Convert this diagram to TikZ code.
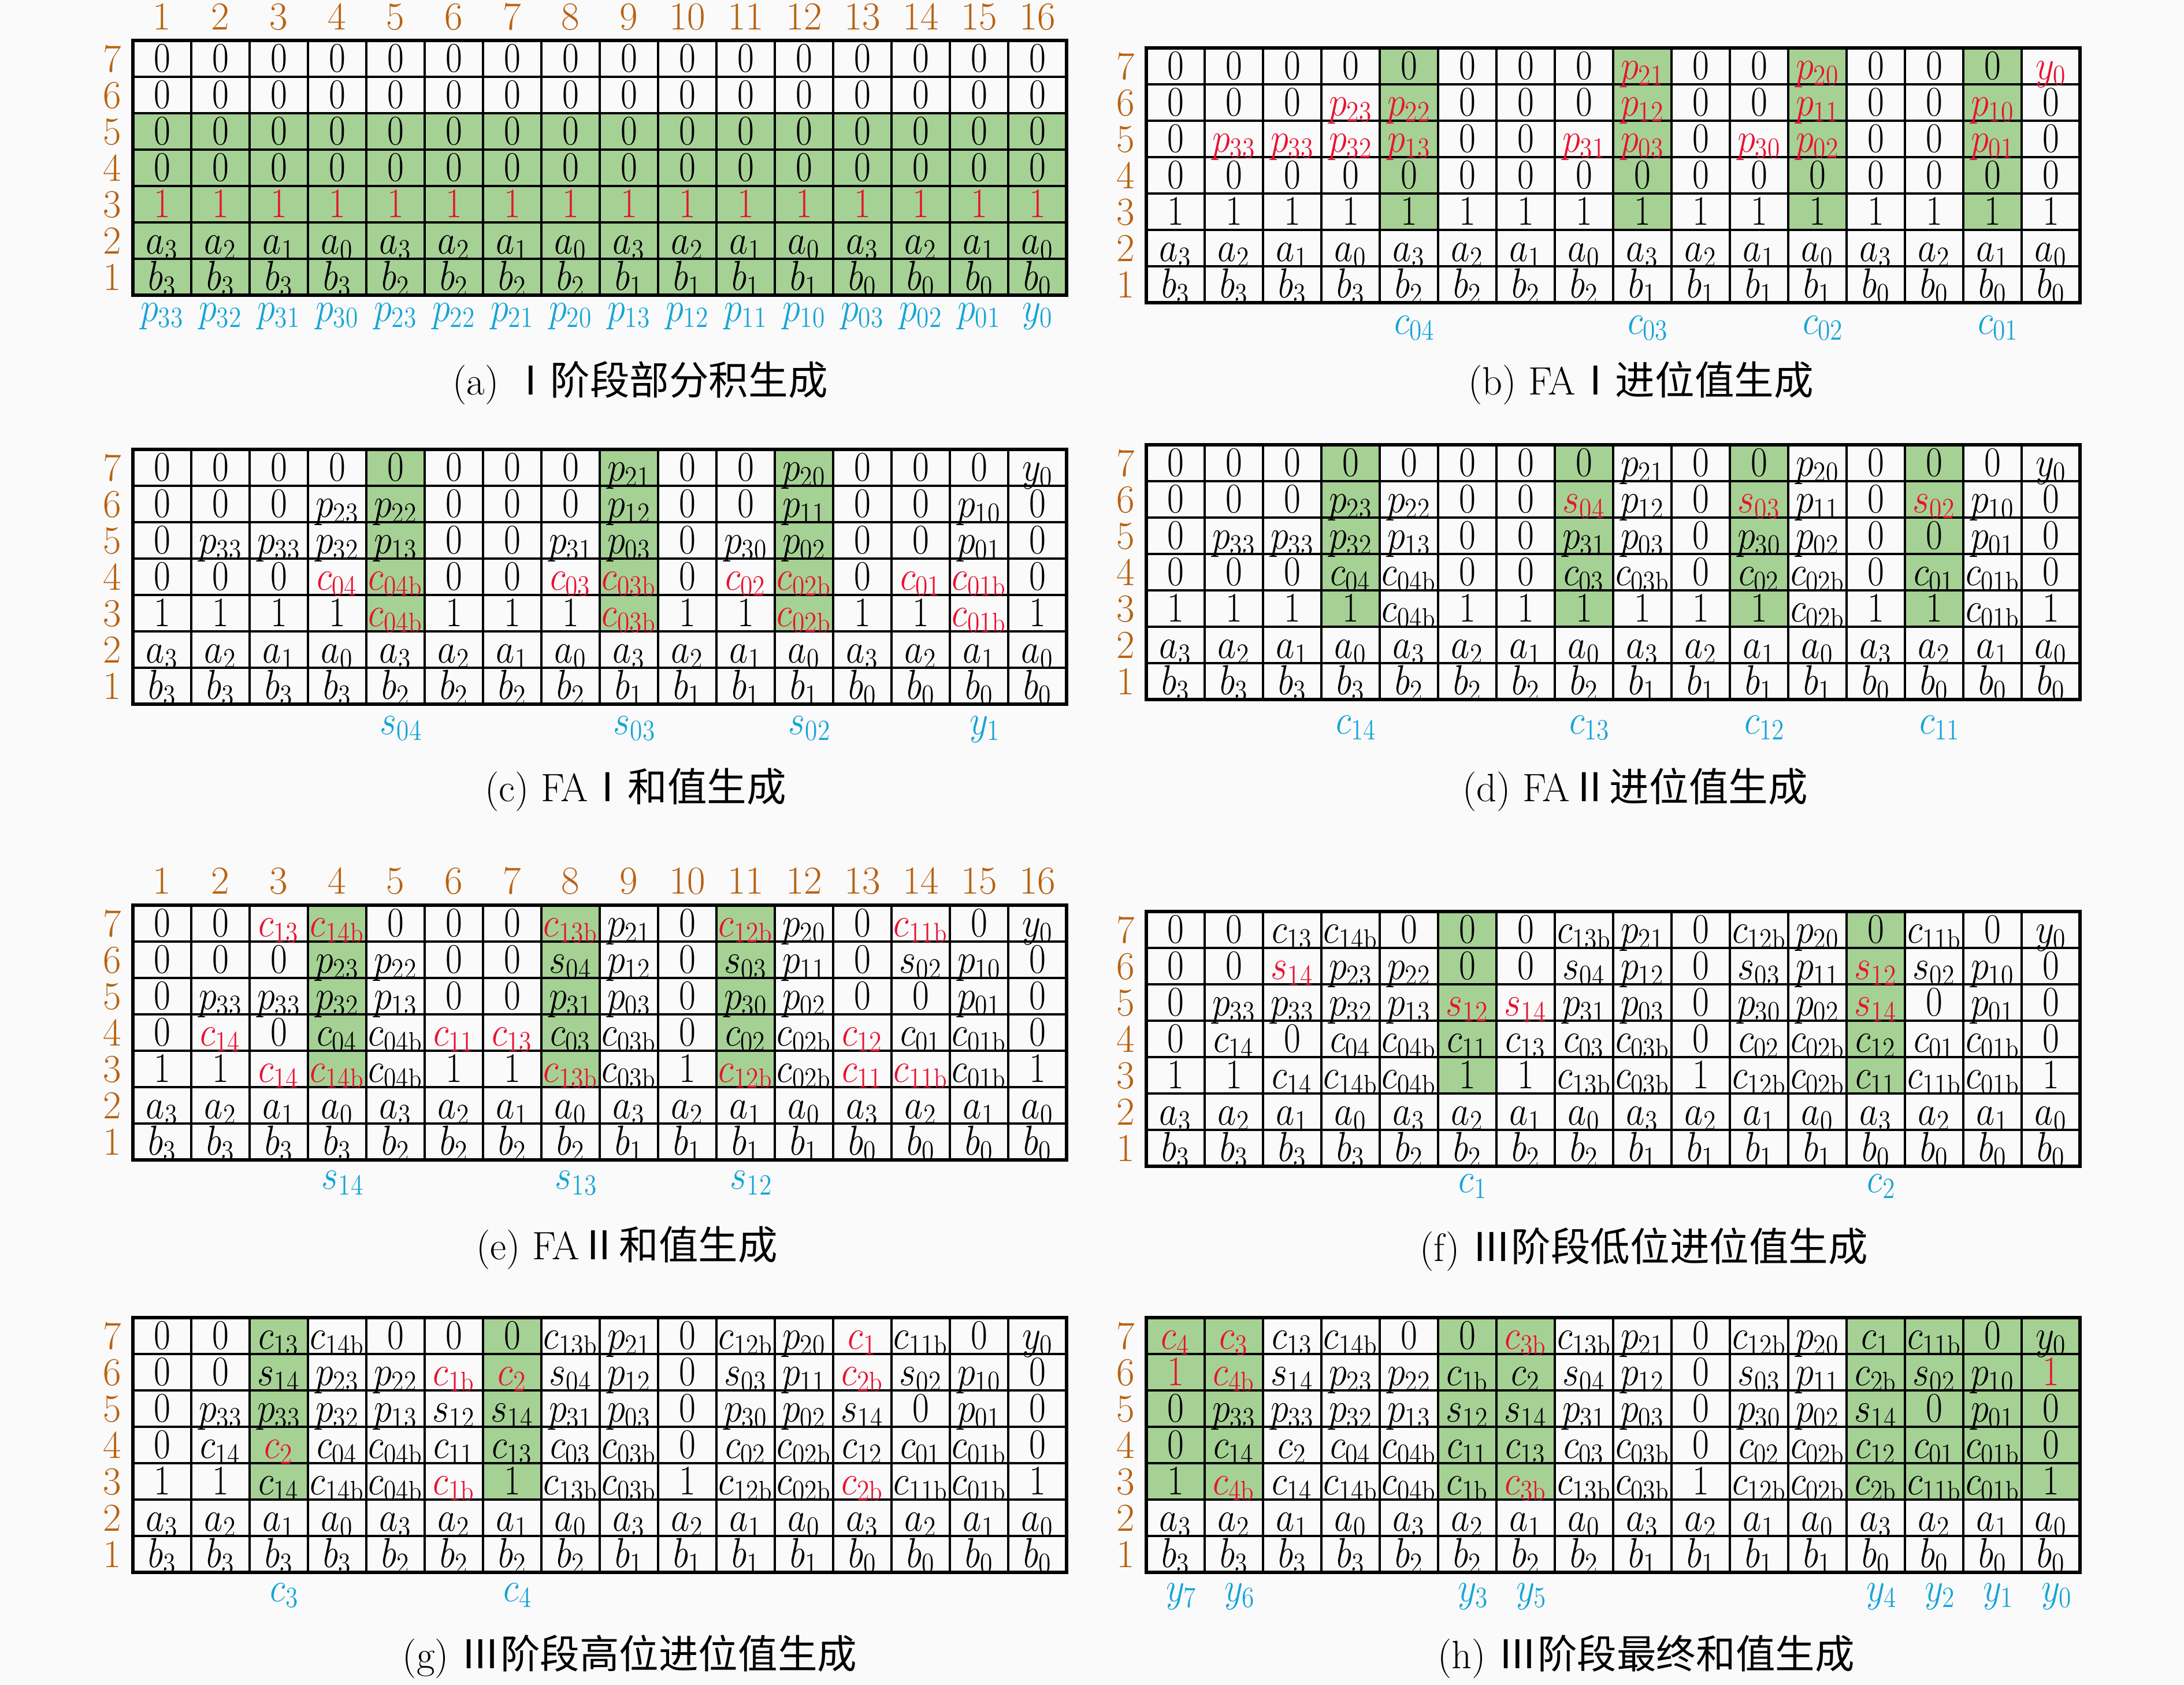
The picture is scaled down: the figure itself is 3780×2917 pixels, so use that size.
\documentclass[tikz,border=0pt]{standalone}
\usepackage{graphicx}
\usepackage{fontspec}
\newfontfamily\cjk{Noto Sans CJK SC}
\definecolor{bgc}{RGB}{250,250,250}
\definecolor{gfill}{RGB}{166,209,149}
\definecolor{numc}{RGB}{185,98,18}
\definecolor{labc}{RGB}{20,165,215}
\definecolor{redc}{RGB}{232,18,50}
\newcommand\Rd[1]{{\color{redc}#1}}
\newcommand\Bs{\mathrm{b}}
\newcommand\Sq[1]{\scalebox{0.86}[1]{$#1$}}
\tikzset{
  cellt/.style={anchor=base, inner sep=0pt, font=\fontsize{19.5}{24}\selectfont},
  numt/.style={anchor=base, inner sep=0pt, text=numc, font=\fontsize{19.5}{24}\selectfont},
  labt/.style={anchor=base, inner sep=0pt, text=labc, font=\fontsize{19.5}{24}\selectfont},
  capt/.style={anchor=center, inner sep=0pt, font=\fontsize{19.5}{22}\selectfont},
  gridline/.style={line width=1.1pt, black},
  frameline/.style={line width=1.7pt, black},
  hl/.style={fill=gfill, draw=none},
}
% grid lines and row numbers: name, x0, ytop
\newcommand\panelgrid[3]{%
  \foreach \kk in {1,...,6} \draw[gridline] (#2,{#3+63*\kk}) -- ({#2+1616},{#3+63*\kk});
  \foreach \ii in {1,...,15} \draw[gridline] ({#2+101*\ii},#3) -- ({#2+101*\ii},{#3+441});
  \draw[frameline] (#2,#3) rectangle ({#2+1616},{#3+441});
  \foreach \rr in {1,...,7} \node[numt] (#1-rn\rr) at ({#2-36},{#3+63*(7-\rr)+54}) {\rr};
}
% one row of cells: name, x0, ytop, row number, list
\newcommand\panelrow[5]{%
  \foreach \tx [count=\ii] in {#5} \node[cellt] (#1-\ii-#4) at ({#2+101*(\ii-0.5)},{#3+63*(7-#4)+54}) {\Sq{\tx}};
}
\newcommand\panelbase[3]{%
  \panelrow{#1}{#2}{#3}{2}{a_3,a_2,a_1,a_0,a_3,a_2,a_1,a_0,a_3,a_2,a_1,a_0,a_3,a_2,a_1,a_0}
  \panelrow{#1}{#2}{#3}{1}{b_3,b_3,b_3,b_3,b_2,b_2,b_2,b_2,b_1,b_1,b_1,b_1,b_0,b_0,b_0,b_0}
}
% green columns (rows 3-7): x0, ytop, list
\newcommand\greencols[3]{%
  \foreach \cc in {#3} \fill[hl] ({#1+101*(\cc-1)},#2) rectangle ({#1+101*\cc},{#2+315});
}
% labels below: name, x0, baseline y, list col/text
\newcommand\panellabels[4]{%
  \foreach \cc/\tx in {#4} \node[labt] (#1-lab\cc) at ({#2+101*(\cc-0.5)+10},#3) {\Sq{\tx}};
}
\begin{document}
\begin{tikzpicture}[x=0.01cm, y=-0.01cm]
\fill[bgc] (0,0) rectangle (3780,2917);
\useasboundingbox (0,0) rectangle (3780,2917);

% ================= (a)
\fill[hl] (230,{70+126}) rectangle (1846,{70+441});
\panelgrid{a}{230}{70}
\foreach \ii in {1,...,16} \node[numt] (a-cn\ii) at ({230+101*(\ii-0.5)},51) {\ii};
\panelrow{a}{230}{70}{7}{0,0,0,0,0,0,0,0,0,0,0,0,0,0,0,0}
\panelrow{a}{230}{70}{6}{0,0,0,0,0,0,0,0,0,0,0,0,0,0,0,0}
\panelrow{a}{230}{70}{5}{0,0,0,0,0,0,0,0,0,0,0,0,0,0,0,0}
\panelrow{a}{230}{70}{4}{0,0,0,0,0,0,0,0,0,0,0,0,0,0,0,0}
\panelrow{a}{230}{70}{3}{\Rd{1},\Rd{1},\Rd{1},\Rd{1},\Rd{1},\Rd{1},\Rd{1},\Rd{1},\Rd{1},\Rd{1},\Rd{1},\Rd{1},\Rd{1},\Rd{1},\Rd{1},\Rd{1}}
\panelbase{a}{230}{70}
\panellabels{a}{220}{556}{1/p_{33},2/p_{32},3/p_{31},4/p_{30},5/p_{23},6/p_{22},7/p_{21},8/p_{20},9/p_{13},10/p_{12},11/p_{11},12/p_{10},13/p_{03},14/p_{02},15/p_{01},16/y_0}
\node[capt] (cap-a) at (1108,663) {(a) {\cjk Ⅰ阶段部分积生成}};

% ================= (b)
\greencols{1984}{83}{5,9,12,15}
\panelgrid{b}{1984}{83}
\panelrow{b}{1984}{83}{7}{0,0,0,0,0,0,0,0,\Rd{p_{21}},0,0,\Rd{p_{20}},0,0,0,\Rd{y_0}}
\panelrow{b}{1984}{83}{6}{0,0,0,\Rd{p_{23}},\Rd{p_{22}},0,0,0,\Rd{p_{12}},0,0,\Rd{p_{11}},0,0,\Rd{p_{10}},0}
\panelrow{b}{1984}{83}{5}{0,\Rd{p_{33}},\Rd{p_{33}},\Rd{p_{32}},\Rd{p_{13}},0,0,\Rd{p_{31}},\Rd{p_{03}},0,\Rd{p_{30}},\Rd{p_{02}},0,0,\Rd{p_{01}},0}
\panelrow{b}{1984}{83}{4}{0,0,0,0,0,0,0,0,0,0,0,0,0,0,0,0}
\panelrow{b}{1984}{83}{3}{1,1,1,1,1,1,1,1,1,1,1,1,1,1,1,1}
\panelbase{b}{1984}{83}
\panellabels{b}{1984}{578}{5/c_{04},9/c_{03},12/c_{02},15/c_{01}}
\node[capt] (cap-b) at (2840,663) {(b) FA{\cjk Ⅰ进位值生成}};

% ================= (c)
\greencols{230}{778}{5,9,12}
\panelgrid{c}{230}{778}
\panelrow{c}{230}{778}{7}{0,0,0,0,0,0,0,0,p_{21},0,0,p_{20},0,0,0,y_0}
\panelrow{c}{230}{778}{6}{0,0,0,p_{23},p_{22},0,0,0,p_{12},0,0,p_{11},0,0,p_{10},0}
\panelrow{c}{230}{778}{5}{0,p_{33},p_{33},p_{32},p_{13},0,0,p_{31},p_{03},0,p_{30},p_{02},0,0,p_{01},0}
\panelrow{c}{230}{778}{4}{0,0,0,\Rd{c_{04}},\Rd{c_{04\Bs}},0,0,\Rd{c_{03}},\Rd{c_{03\Bs}},0,\Rd{c_{02}},\Rd{c_{02\Bs}},0,\Rd{c_{01}},\Rd{c_{01\Bs}},0}
\panelrow{c}{230}{778}{3}{1,1,1,1,\Rd{c_{04\Bs}},1,1,1,\Rd{c_{03\Bs}},1,1,\Rd{c_{02\Bs}},1,1,\Rd{c_{01\Bs}},1}
\panelbase{c}{230}{778}
\panellabels{c}{230}{1271}{5/s_{04},9/s_{03},12/s_{02},15/y_1}
\node[capt] (cap-c) at (1100,1367) {(c) FA{\cjk Ⅰ和值生成}};

% ================= (d)
\greencols{1984}{770}{4,8,11,14}
\panelgrid{d}{1984}{770}
\panelrow{d}{1984}{770}{7}{0,0,0,0,0,0,0,0,p_{21},0,0,p_{20},0,0,0,y_0}
\panelrow{d}{1984}{770}{6}{0,0,0,p_{23},p_{22},0,0,\Rd{s_{04}},p_{12},0,\Rd{s_{03}},p_{11},0,\Rd{s_{02}},p_{10},0}
\panelrow{d}{1984}{770}{5}{0,p_{33},p_{33},p_{32},p_{13},0,0,p_{31},p_{03},0,p_{30},p_{02},0,0,p_{01},0}
\panelrow{d}{1984}{770}{4}{0,0,0,c_{04},c_{04\Bs},0,0,c_{03},c_{03\Bs},0,c_{02},c_{02\Bs},0,c_{01},c_{01\Bs},0}
\panelrow{d}{1984}{770}{3}{1,1,1,1,c_{04\Bs},1,1,1,1,1,1,c_{02\Bs},1,1,c_{01\Bs},1}
\panelbase{d}{1984}{770}
\panellabels{d}{1984}{1270}{4/c_{14},8/c_{13},11/c_{12},14/c_{11}}
\node[capt] (cap-d) at (2830,1367) {(d) FA{\cjk Ⅱ进位值生成}};

% ================= (e)
\greencols{230}{1567}{4,8,11}
\panelgrid{e}{230}{1567}
\foreach \ii in {1,...,16} \node[numt] (e-cn\ii) at ({230+101*(\ii-0.5)},1547) {\ii};
\panelrow{e}{230}{1567}{7}{0,0,\Rd{c_{13}},\Rd{c_{14\Bs}},0,0,0,\Rd{c_{13\Bs}},p_{21},0,\Rd{c_{12\Bs}},p_{20},0,\Rd{c_{11\Bs}},0,y_0}
\panelrow{e}{230}{1567}{6}{0,0,0,p_{23},p_{22},0,0,s_{04},p_{12},0,s_{03},p_{11},0,s_{02},p_{10},0}
\panelrow{e}{230}{1567}{5}{0,p_{33},p_{33},p_{32},p_{13},0,0,p_{31},p_{03},0,p_{30},p_{02},0,0,p_{01},0}
\panelrow{e}{230}{1567}{4}{0,\Rd{c_{14}},0,c_{04},c_{04\Bs},\Rd{c_{11}},\Rd{c_{13}},c_{03},c_{03\Bs},0,c_{02},c_{02\Bs},\Rd{c_{12}},c_{01},c_{01\Bs},0}
\panelrow{e}{230}{1567}{3}{1,1,\Rd{c_{14}},\Rd{c_{14\Bs}},c_{04\Bs},1,1,\Rd{c_{13\Bs}},c_{03\Bs},1,\Rd{c_{12\Bs}},c_{02\Bs},\Rd{c_{11}},\Rd{c_{11\Bs}},c_{01\Bs},1}
\panelbase{e}{230}{1567}
\panellabels{e}{230}{2058}{4/s_{14},8/s_{13},11/s_{12}}
\node[capt] (cap-e) at (1085,2160) {(e) FA{\cjk Ⅱ和值生成}};

% ================= (f)
\greencols{1984}{1578}{6,13}
\panelgrid{f}{1984}{1578}
\panelrow{f}{1984}{1578}{7}{0,0,c_{13},c_{14\Bs},0,0,0,c_{13\Bs},p_{21},0,c_{12\Bs},p_{20},0,c_{11\Bs},0,y_0}
\panelrow{f}{1984}{1578}{6}{0,0,\Rd{s_{14}},p_{23},p_{22},0,0,s_{04},p_{12},0,s_{03},p_{11},\Rd{s_{12}},s_{02},p_{10},0}
\panelrow{f}{1984}{1578}{5}{0,p_{33},p_{33},p_{32},p_{13},\Rd{s_{12}},\Rd{s_{14}},p_{31},p_{03},0,p_{30},p_{02},\Rd{s_{14}},0,p_{01},0}
\panelrow{f}{1984}{1578}{4}{0,c_{14},0,c_{04},c_{04\Bs},c_{11},c_{13},c_{03},c_{03\Bs},0,c_{02},c_{02\Bs},c_{12},c_{01},c_{01\Bs},0}
\panelrow{f}{1984}{1578}{3}{1,1,c_{14},c_{14\Bs},c_{04\Bs},1,1,c_{13\Bs},c_{03\Bs},1,c_{12\Bs},c_{02\Bs},c_{11},c_{11\Bs},c_{01\Bs},1}
\panelbase{f}{1984}{1578}
\panellabels{f}{1984}{2064}{6/c_1,13/c_2}
\node[capt] (cap-f) at (2845,2163) {(f) {\cjk Ⅲ阶段低位进位值生成}};

% ================= (g)
\greencols{230}{2281}{3,7}
\panelgrid{g}{230}{2281}
\panelrow{g}{230}{2281}{7}{0,0,c_{13},c_{14\Bs},0,0,0,c_{13\Bs},p_{21},0,c_{12\Bs},p_{20},\Rd{c_1},c_{11\Bs},0,y_0}
\panelrow{g}{230}{2281}{6}{0,0,s_{14},p_{23},p_{22},\Rd{c_{1\Bs}},\Rd{c_2},s_{04},p_{12},0,s_{03},p_{11},\Rd{c_{2\Bs}},s_{02},p_{10},0}
\panelrow{g}{230}{2281}{5}{0,p_{33},p_{33},p_{32},p_{13},s_{12},s_{14},p_{31},p_{03},0,p_{30},p_{02},s_{14},0,p_{01},0}
\panelrow{g}{230}{2281}{4}{0,c_{14},\Rd{c_2},c_{04},c_{04\Bs},c_{11},c_{13},c_{03},c_{03\Bs},0,c_{02},c_{02\Bs},c_{12},c_{01},c_{01\Bs},0}
\panelrow{g}{230}{2281}{3}{1,1,c_{14},c_{14\Bs},c_{04\Bs},\Rd{c_{1\Bs}},1,c_{13\Bs},c_{03\Bs},1,c_{12\Bs},c_{02\Bs},\Rd{c_{2\Bs}},c_{11\Bs},c_{01\Bs},1}
\panelbase{g}{230}{2281}
\panellabels{g}{230}{2772}{3/c_3,7/c_4}
\node[capt] (cap-g) at (1090,2868) {(g) {\cjk Ⅲ阶段高位进位值生成}};

% ================= (h)
\greencols{1984}{2281}{1,2,6,7,13,14,15,16}
\panelgrid{h}{1984}{2281}
\panelrow{h}{1984}{2281}{7}{\Rd{c_4},\Rd{c_3},c_{13},c_{14\Bs},0,0,\Rd{c_{3\Bs}},c_{13\Bs},p_{21},0,c_{12\Bs},p_{20},c_1,c_{11\Bs},0,y_0}
\panelrow{h}{1984}{2281}{6}{\Rd{1},\Rd{c_{4\Bs}},s_{14},p_{23},p_{22},c_{1\Bs},c_2,s_{04},p_{12},0,s_{03},p_{11},c_{2\Bs},s_{02},p_{10},\Rd{1}}
\panelrow{h}{1984}{2281}{5}{0,p_{33},p_{33},p_{32},p_{13},s_{12},s_{14},p_{31},p_{03},0,p_{30},p_{02},s_{14},0,p_{01},0}
\panelrow{h}{1984}{2281}{4}{0,c_{14},c_2,c_{04},c_{04\Bs},c_{11},c_{13},c_{03},c_{03\Bs},0,c_{02},c_{02\Bs},c_{12},c_{01},c_{01\Bs},0}
\panelrow{h}{1984}{2281}{3}{1,\Rd{c_{4\Bs}},c_{14},c_{14\Bs},c_{04\Bs},c_{1\Bs},\Rd{c_{3\Bs}},c_{13\Bs},c_{03\Bs},1,c_{12\Bs},c_{02\Bs},c_{2\Bs},c_{11\Bs},c_{01\Bs},1}
\panelbase{h}{1984}{2281}
\panellabels{h}{1984}{2772}{1/y_7,2/y_6,6/y_3,7/y_5,13/y_4,14/y_2,15/y_1,16/y_0}
\node[capt] (cap-h) at (2849,2868) {(h) {\cjk Ⅲ阶段最终和值生成}};
\end{tikzpicture}
\end{document}
